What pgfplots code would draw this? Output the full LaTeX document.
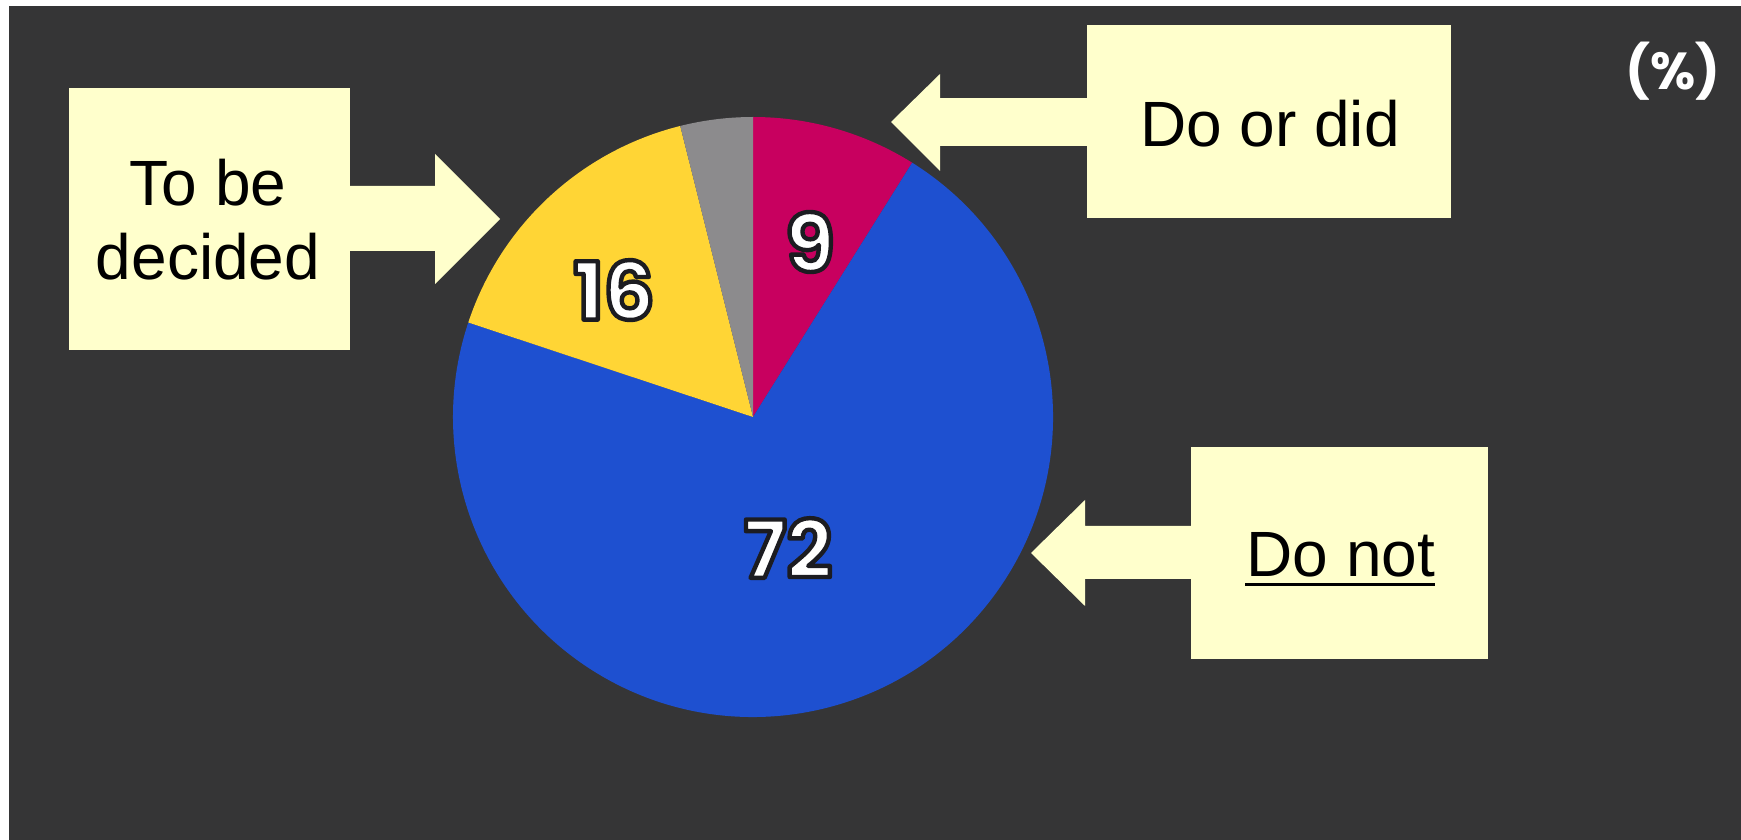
\documentclass[border=0pt]{standalone}
\usepackage{pgfplots}
\pgfplotsset{compat=1.18}
\usepackage{pgfplotstable}
\usepackage{fontspec}
\setmainfont{Liberation Sans}
\newfontfamily\numfont{Poppins}
\definecolor{bg}{HTML}{353536}
\definecolor{pRed}{HTML}{C8005F}
\definecolor{pBlue}{HTML}{1E50D0}
\definecolor{pYel}{HTML}{FFD535}
\definecolor{pGray}{HTML}{8C8B8D}
\definecolor{boxy}{HTML}{FFFFCC}
\tikzset{numstyle/.style={font=\numfont\bfseries\fontsize{40bp}{44bp}\selectfont,inner sep=0pt,text=white},
  lab/.style={font=\fontsize{32bp}{36bp}\selectfont,text=black,inner sep=0pt,anchor=base}}
% white digits with a dark outline: fill, then stroke in dark
\newcommand\olt[1]{\special{pdf:literal direct 1 j 2.2 w 0.11 0.11 0.13 RG 2 Tr}#1\special{pdf:literal direct 0 Tr}}
\begin{document}%
\begin{tikzpicture}
% shares of the pie (percent), clockwise from 12 o'clock
\pgfplotstableread{
name value
Doordid 8.9
Donot 71.2
Tobedecided 16.0
Other 3.9
}\piedata
\pgfplotstablegetelem{0}{value}\of\piedata \let\vA\pgfplotsretval
\pgfplotstablegetelem{1}{value}\of\piedata \let\vB\pgfplotsretval
\pgfplotstablegetelem{2}{value}\of\piedata \let\vC\pgfplotsretval
\pgfplotstablegetelem{3}{value}\of\piedata \let\vD\pgfplotsretval
\pgfmathsetmacro\aA{90}
\pgfmathsetmacro\aB{\aA-3.6*\vA}
\pgfmathsetmacro\aC{\aB-3.6*\vB}
\pgfmathsetmacro\aD{\aC-3.6*\vC}
\pgfmathsetmacro\aE{\aD-3.6*\vD}
\begin{axis}[
  width=870.5bp, height=420bp, scale only axis,
  xmin=0, xmax=1741, ymin=0, ymax=840, y dir=reverse,
  enlargelimits=false, hide axis, clip=false]
  % background
  \fill[white] (axis cs:0,0) rectangle (axis cs:1741,840);
  \fill[bg] (axis cs:9,6) rectangle (axis cs:1741,840);
  % pie
  \fill[pRed]  (axis cs:753,417) -- ++(\aA:150bp) arc[start angle=\aA, end angle=\aB, radius=150bp] -- cycle;
  \fill[pBlue] (axis cs:753,417) -- ++(\aB:150bp) arc[start angle=\aB, end angle=\aC, radius=150bp] -- cycle;
  \fill[pYel]  (axis cs:753,417) -- ++(\aC:150bp) arc[start angle=\aC, end angle=\aD, radius=150bp] -- cycle;
  \fill[pGray] (axis cs:753,417) -- ++(\aD:150bp) arc[start angle=\aD, end angle=\aE, radius=150bp] -- cycle;
  % value labels
  \node[numstyle] at (axis cs:810,242) {\olt{9}};
  \node[numstyle] at (axis cs:614,290) {\olt{16}};
  \node[numstyle] at (axis cs:788,548) {\olt{72}};
  % (%)
  \node[font=\numfont\bfseries\fontsize{26bp}{30bp}\selectfont,text=white,inner sep=0pt] at (axis cs:1673,71) {(\%)};
  % callout: To be decided
  \fill[boxy] (axis cs:69,88) rectangle (axis cs:350,350);
  \fill[boxy] (axis cs:349,186) -- (axis cs:435,186) -- (axis cs:435,154) -- (axis cs:500,219)
     -- (axis cs:435,284) -- (axis cs:435,251) -- (axis cs:349,251) -- cycle;
  \node[lab] at (axis cs:208,205) {To be};
  \node[lab] at (axis cs:208,280) {decided};
  % callout: Do or did
  \fill[boxy] (axis cs:1087,25) rectangle (axis cs:1451,218);
  \fill[boxy] (axis cs:1088,98) -- (axis cs:940,98) -- (axis cs:940,74) -- (axis cs:891,122)
     -- (axis cs:940,171) -- (axis cs:940,146) -- (axis cs:1088,146) -- cycle;
  \node[lab] at (axis cs:1270,146) {Do or did};
  % callout: Do not
  \fill[boxy] (axis cs:1191,447) rectangle (axis cs:1488,659);
  \fill[boxy] (axis cs:1192,526) -- (axis cs:1085,526) -- (axis cs:1085,500) -- (axis cs:1031,553)
     -- (axis cs:1085,606) -- (axis cs:1085,579) -- (axis cs:1192,579) -- cycle;
  \node[lab] at (axis cs:1341,577) {Do not};
  \draw[black, line width=1.6bp] (axis cs:1245,584.5) -- (axis cs:1435,584.5);
\end{axis}
\end{tikzpicture}%
\end{document}
